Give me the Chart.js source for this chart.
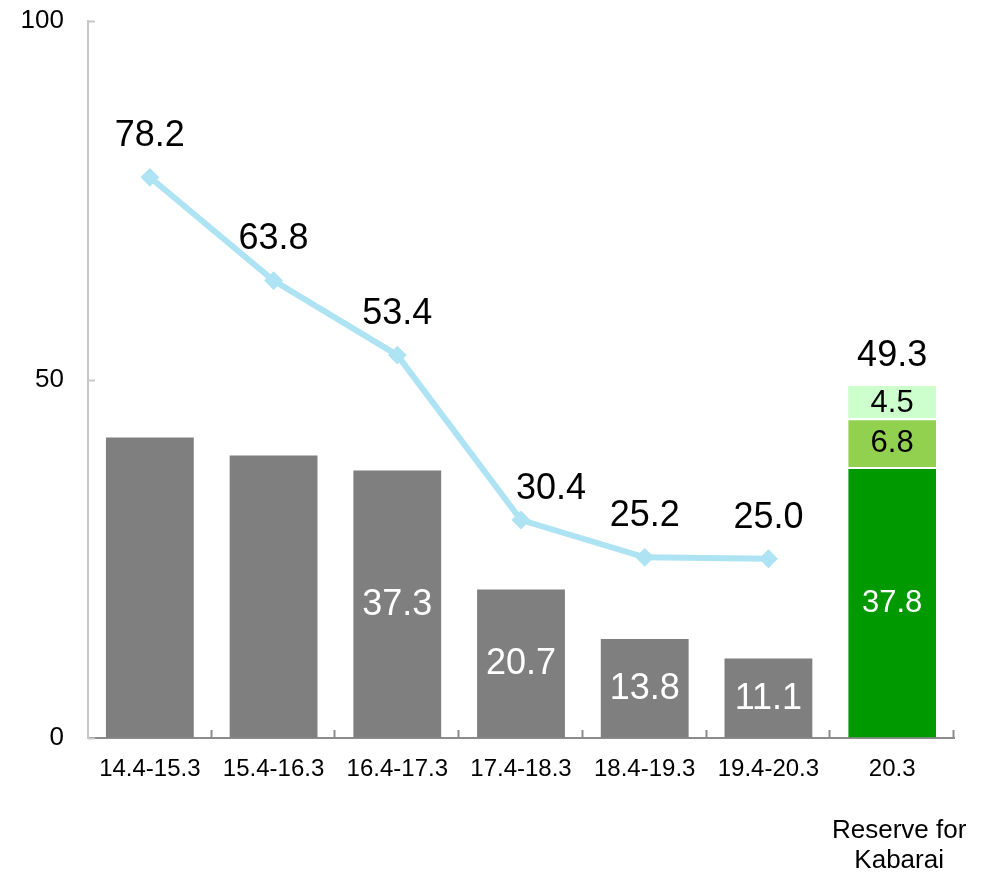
<!DOCTYPE html>
<html>
<head>
<meta charset="utf-8">
<script src="https://cdn.jsdelivr.net/npm/chart.js@4/dist/chart.umd.min.js"></script>
<style>
  html, body { margin: 0; padding: 0; background: #ffffff; }
  #wrap { width: 981px; height: 872px; }
</style>
</head>
<body>
<div id="wrap"><canvas id="chart" width="981" height="872"></canvas></div>
<script>
// Fiscal periods and the closing-date reserve column
const categories = ['14.4-15.3', '15.4-16.3', '16.4-17.3', '17.4-18.3', '18.4-19.3', '19.4-20.3', '20.3'];

// Gray bars per period (first two periods carry no value label)
const periodValues = [41.9, 39.4, 37.3, 20.7, 13.8, 11.1, null];
const periodLabelShown = [false, false, true, true, true, true, false];

// Reserve for Kabarai, split into three stacked segments, plus its stated total
const reserveBase = [null, null, null, null, null, null, 37.8];
const reserveMid = [null, null, null, null, null, null, 6.8];
const reserveTop = [null, null, null, null, null, null, 4.5];
const reserveTotal = [null, null, null, null, null, null, 49.3];

// Line series
const lineValues = [78.2, 63.8, 53.4, 30.4, 25.2, 25.0, null];

// Value axis ticks
const yTicks = [0, 50, 100];

// Caption under the last column
const reserveCaption = ['Reserve for', 'Kabarai'];

const FONT = "'Liberation Sans', Arial, sans-serif";
const Y_AXIS_COLOR = '#c8c8c8';
const X_AXIS_COLOR = '#8c8c8c';

// Per-point nudges for line value labels (dx, dy from the default spot above the point)
const lineLabelNudge = [[0, 0], [0, 0], [0, 0], [30, 10], [0, 0], [0, 0], [0, 0]];

const valueLabels = {
  id: 'valueLabels',
  afterDatasetsDraw(chart) {
    const ctx = chart.ctx;
    ctx.save();
    ctx.textAlign = 'center';
    ctx.textBaseline = 'middle';
    chart.data.datasets.forEach((ds, di) => {
      const meta = chart.getDatasetMeta(di);
      meta.data.forEach((el, i) => {
        const v = ds.data[i];
        if (v === null || v === undefined) return;
        const label = ds.labelStyle;
        if (!label) return;
        if (label.shown && !label.shown[i]) return;
        ctx.font = label.size + 'px ' + FONT;
        ctx.fillStyle = label.color;
        if (label.where === 'above') {
          const n = lineLabelNudge[i] || [0, 0];
          ctx.fillText(v.toFixed(1), el.x + n[0], el.y - 41 + n[1]);
        } else {
          ctx.fillText(v.toFixed(1), el.x, (el.y + el.base) / 2 + 1);
        }
      });
    });
    // Total above the stacked reserve column
    const topMeta = chart.getDatasetMeta(3);
    reserveTotal.forEach((t, i) => {
      if (t === null) return;
      const el = topMeta.data[i];
      ctx.font = '36px ' + FONT;
      ctx.fillStyle = '#000000';
      ctx.fillText(t.toFixed(1), el.x, el.y - 30);
    });
    ctx.restore();
  }
};

const axisDecor = {
  id: 'axisDecor',
  afterDraw(chart) {
    const ctx = chart.ctx;
    const area = chart.chartArea;
    const xs = chart.scales.x;
    const ys = chart.scales.y;
    ctx.save();
    // inward tick marks on the value axis
    ctx.strokeStyle = Y_AXIS_COLOR;
    ctx.lineWidth = 2;
    yTicks.forEach(v => {
      const y = Math.round(ys.getPixelForValue(v)) + 0.5;
      ctx.beginPath();
      ctx.moveTo(area.left, y);
      ctx.lineTo(area.left + 7, y);
      ctx.stroke();
    });
    // inward tick marks between categories
    ctx.strokeStyle = X_AXIS_COLOR;
    const step = (area.right - area.left) / categories.length;
    for (let i = 1; i <= categories.length; i++) {
      const x = Math.round(area.left + i * step) - 0.5;
      ctx.beginPath();
      ctx.moveTo(x, area.bottom);
      ctx.lineTo(x, area.bottom - 8);
      ctx.stroke();
    }
    // caption under the reserve column
    ctx.font = '26px ' + FONT;
    ctx.fillStyle = '#000000';
    ctx.textAlign = 'center';
    ctx.textBaseline = 'middle';
    const cx = xs.getPixelForValue(categories.length - 1) + 7;
    reserveCaption.forEach((line, k) => {
      ctx.fillText(line, cx, area.bottom + 93 + k * 30);
    });
    ctx.restore();
  }
};

new Chart(document.getElementById('chart'), {
  data: {
    labels: categories,
    datasets: [
      {
        type: 'line',
        data: lineValues,
        borderColor: '#ade3f3',
        backgroundColor: '#ade3f3',
        borderWidth: 6,
        pointStyle: 'rectRot',
        pointRadius: 8,
        pointBorderWidth: 2,
        pointBorderColor: '#ade3f3',
        pointBackgroundColor: '#ade3f3',
        tension: 0,
        stack: 'line',
        order: 0,
        labelStyle: { where: 'above', size: 36, color: '#000000' }
      },
      {
        type: 'bar',
        data: reserveBase,
        backgroundColor: '#009900',
        borderColor: '#ffffff',
        borderWidth: { top: 2, bottom: 0, left: 0, right: 0 },
        borderSkipped: false,
        stack: 'bars',
        order: 1,
        labelStyle: { where: 'inside', size: 31, color: '#ffffff' }
      },
      {
        type: 'bar',
        data: reserveMid,
        backgroundColor: '#92d050',
        borderColor: '#ffffff',
        borderWidth: { top: 2, bottom: 0, left: 0, right: 0 },
        borderSkipped: false,
        stack: 'bars',
        order: 1,
        labelStyle: { where: 'inside', size: 31, color: '#000000' }
      },
      {
        type: 'bar',
        data: reserveTop,
        backgroundColor: '#ccffcc',
        borderWidth: 0,
        stack: 'bars',
        order: 1,
        labelStyle: { where: 'inside', size: 31, color: '#000000' }
      },
      {
        type: 'bar',
        data: periodValues,
        backgroundColor: '#7f7f7f',
        borderWidth: 0,
        stack: 'bars',
        order: 1,
        labelStyle: { where: 'inside', size: 36, color: '#ffffff', shown: periodLabelShown }
      }
    ]
  },
  options: {
    responsive: false,
    devicePixelRatio: 1,
    animation: false,
    layout: { padding: { top: 21, right: 27, left: 0, bottom: 0 } },
    datasets: {
      bar: { categoryPercentage: 1, barPercentage: 0.71 }
    },
    plugins: {
      legend: { display: false },
      tooltip: { enabled: false }
    },
    scales: {
      x: {
        grid: { display: true, drawOnChartArea: false, drawTicks: false },
        border: { display: true, color: X_AXIS_COLOR, width: 2 },
        ticks: {
          color: '#000000',
          font: { family: FONT, size: 24 },
          padding: 17,
          maxRotation: 0,
          autoSkip: false
        },
        afterFit(scale) { scale.height = 134; }
      },
      y: {
        stacked: true,
        min: 0,
        max: 100,
        afterBuildTicks(scale) { scale.ticks = yTicks.map(v => ({ value: v })); },
        grid: { display: true, drawOnChartArea: false, drawTicks: false },
        border: { display: true, color: Y_AXIS_COLOR, width: 2 },
        ticks: {
          color: '#000000',
          font: { family: FONT, size: 26 },
          padding: 24
        },
        afterFit(scale) {
          scale.width = 88;
          scale.paddingTop = 0;
          scale.paddingBottom = 0;
        }
      }
    }
  },
  plugins: [valueLabels, axisDecor]
});
</script>
</body>
</html>
